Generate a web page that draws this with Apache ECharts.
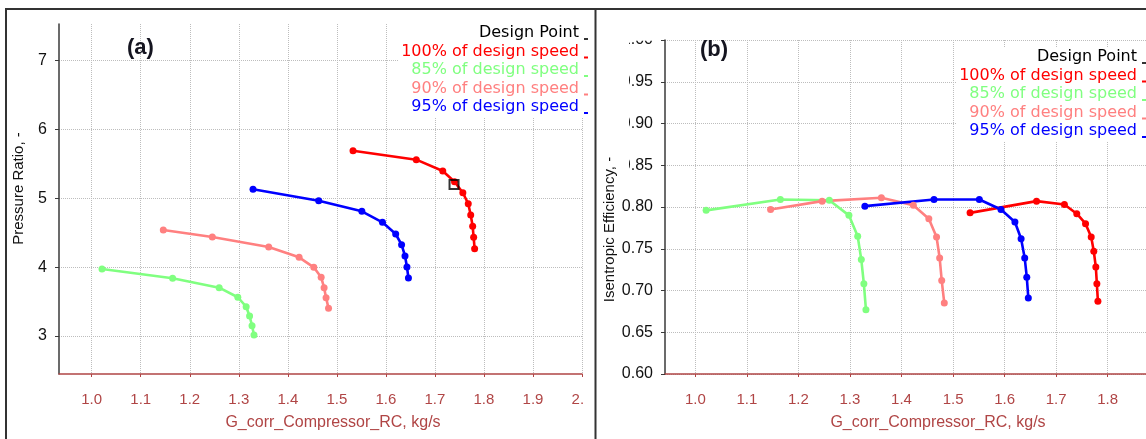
<!DOCTYPE html>
<html lang="en">
<head>
<meta charset="UTF-8">
<title>Compressor map</title>
<script src="https://cdn.jsdelivr.net/npm/echarts@6/dist/echarts.min.js"></script>
<style>
html, body { margin: 0; padding: 0; background: #fff; }
#main { width: 1146px; height: 439px; }
</style>
</head>
<body>
<div id="main"></div>
<script>
// corrected mass flow [kg/s], pressure ratio [-], isentropic efficiency [-]
var flow100 = [1.533, 1.662, 1.716, 1.740, 1.757, 1.768, 1.773, 1.777, 1.779, 1.781];
var pr100   = [5.692, 5.562, 5.397, 5.242, 5.082, 4.922, 4.758, 4.594, 4.434, 4.269];
var eff100  = [0.793, 0.807, 0.803, 0.792, 0.780, 0.764, 0.747, 0.728, 0.708, 0.687];

var flow95 = [1.329, 1.463, 1.551, 1.593, 1.620, 1.632, 1.639, 1.643, 1.646];
var pr95   = [5.132, 4.966, 4.812, 4.652, 4.482, 4.327, 4.163, 4.003, 3.843];
var eff95  = [0.801, 0.809, 0.809, 0.797, 0.782, 0.762, 0.739, 0.716, 0.691];

var flow90 = [1.146, 1.246, 1.361, 1.423, 1.453, 1.468, 1.474, 1.478, 1.483];
var pr90   = [4.540, 4.439, 4.293, 4.143, 3.998, 3.853, 3.702, 3.557, 3.403];
var eff90  = [0.797, 0.807, 0.811, 0.802, 0.786, 0.764, 0.739, 0.712, 0.685];

var flow85 = [1.021, 1.165, 1.260, 1.298, 1.315, 1.322, 1.327, 1.331];
var pr85   = [3.974, 3.838, 3.702, 3.563, 3.426, 3.291, 3.150, 3.015];
var eff85  = [0.796, 0.809, 0.808, 0.790, 0.765, 0.737, 0.708, 0.677];

var designFlow = [1.739];
var designPr = [5.20];

var flowTicksA = [1.0, 1.1, 1.2, 1.3, 1.4, 1.5, 1.6, 1.7, 1.8, 1.9, 2.0];
var flowTicksB = [1.0, 1.1, 1.2, 1.3, 1.4, 1.5, 1.6, 1.7, 1.8];
var prTicks = [3, 4, 5, 6, 7];
var effTicks = [0.60, 0.65, 0.70, 0.75, 0.80, 0.85, 0.90, 0.95, 1.00];

var legendNames = ['Design Point', '100% of design speed', '85% of design speed', '90% of design speed', '95% of design speed'];
var legendColors = ['#000000', '#ff0000', '#80ff80', '#ff8080', '#0000ff'];

var red = '#ff0000', green = '#80ff80', salmon = '#ff8080', blue = '#0000ff';
var axisRed = '#b04545';
var gridGray = '#bdbdbd';

function zip(xs, ys) {
	return xs.map(function (x, i) { return [x, ys[i]]; });
}

function speedLine(name, color, xs, ys, idx) {
	return {
		name: name, type: 'line', xAxisIndex: idx, yAxisIndex: idx,
		data: zip(xs, ys),
		symbol: 'circle', symbolSize: 7,
		lineStyle: { color: color, width: 2.6 },
		itemStyle: { color: color, borderWidth: 0 },
		emphasis: { disabled: true },
		z: 3
	};
}

// tiny dash after each legend text
var dashIcon = 'path://M0,0 M0,13 L4,13 L4,15 L0,15 Z M4,16';

function legendAt(top, right) {
	return {
		orient: 'vertical', align: 'right',
		top: top, right: right,
		itemWidth: 4, itemHeight: 16, itemGap: 2.5,
		icon: dashIcon,
		selectedMode: false,
		backgroundColor: '#fff',
		padding: [2, 0, 3, 3],
		textStyle: { fontFamily: 'DejaVu Sans', fontSize: 16 },
		data: legendNames.map(function (n, i) {
			return { name: n, textStyle: { color: legendColors[i] }, itemStyle: { color: legendColors[i], borderWidth: 0 } };
		})
	};
}

function flowAxis(idx, min, max, ticks, namePad) {
	return {
		gridIndex: idx, type: 'value', min: min, max: max,
		name: 'G_corr_Compressor_RC, kg/s',
		nameLocation: 'middle', nameGap: 41,
		nameTextStyle: { color: axisRed, fontFamily: 'Liberation Sans', fontSize: 16, padding: [0, 0, 0, namePad] },
		axisLine: { onZero: false, lineStyle: { color: axisRed, width: 1.5 } },
		axisTick: { customValues: ticks, length: 3, lineStyle: { color: axisRed } },
		axisLabel: {
			customValues: ticks, margin: 18, color: axisRed,
			fontFamily: 'Liberation Sans', fontSize: 15,
			formatter: function (v) { return v.toFixed(1); }
		},
		splitLine: { show: true, lineStyle: { color: gridGray, type: [1, 1], width: 1 } }
	};
}

function valAxis(idx, min, max, ticks, name, digits, gap, pad) {
	return {
		gridIndex: idx, type: 'value', min: min, max: max,
		name: name, nameLocation: 'middle', nameGap: gap,
		nameTextStyle: { color: '#111', fontFamily: 'Liberation Sans', fontSize: 15, padding: pad },
		axisLine: { onZero: false, lineStyle: { color: '#3a3a3a', width: 1.5 } },
		axisTick: { customValues: ticks, length: 4, lineStyle: { color: '#3a3a3a' } },
		axisLabel: {
			customValues: ticks, margin: 12, color: '#111',
			fontFamily: 'Liberation Sans', fontSize: 16,
			formatter: function (v) { return v.toFixed(digits); }
		},
		splitLine: { show: true, lineStyle: { color: gridGray, type: [1, 1], width: 1 } }
	};
}

var chart = echarts.init(document.getElementById('main'));
var option = {
	animation: false,
	backgroundColor: '#fff',
	title: [
		{ text: '(a)', left: 127, top: 37, padding: 0, textStyle: { fontFamily: 'Liberation Sans', fontWeight: 'bold', fontSize: 22, color: '#151520' } },
		{ text: '(b)', left: 700, top: 39, padding: 0, textStyle: { fontFamily: 'Liberation Sans', fontWeight: 'bold', fontSize: 22, color: '#151520' } }
	],
	legend: [legendAt(23, 558), legendAt(47, 0)],
	grid: [
		{ left: 59, top: 24, right: 564, bottom: 65, outerBoundsMode: 'none' },
		{ left: 665, top: 40, right: 0, bottom: 65, outerBoundsMode: 'none' }
	],
	xAxis: [
		flowAxis(0, 0.9333, 2.0, flowTicksA, 25),
		flowAxis(1, 0.9412, 1.8743, flowTicksB, 65)
	],
	yAxis: [
		valAxis(0, 2.448, 7.533, prTicks, 'Pressure Ratio, -', 0, 33, [0, 0, 0, 21]),
		valAxis(1, 0.60, 1.00, effTicks, 'Isentropic Efficiency, -', 2, 48, [0, 45, 0, 0])
	],
	series: [
		speedLine('100% of design speed', red, flow100, pr100, 0),
		speedLine('85% of design speed', green, flow85, pr85, 0),
		speedLine('90% of design speed', salmon, flow90, pr90, 0),
		speedLine('95% of design speed', blue, flow95, pr95, 0),
		speedLine('100% of design speed', red, flow100, eff100, 1),
		speedLine('85% of design speed', green, flow85, eff85, 1),
		speedLine('90% of design speed', salmon, flow90, eff90, 1),
		speedLine('95% of design speed', blue, flow95, eff95, 1),
		{
			name: 'Design Point', type: 'scatter', xAxisIndex: 0, yAxisIndex: 0,
			data: zip(designFlow, designPr),
			symbol: 'rect', symbolSize: 9,
			itemStyle: { color: 'rgba(0,0,0,0)', borderColor: '#000', borderWidth: 2 },
			emphasis: { disabled: true },
			z: 5
		}
	],
	graphic: [
		// clipped tick labels as in the original panels
		{ type: 'rect', z: 100, shape: { x: 584, y: 384, width: 10, height: 30 }, style: { fill: '#fff' } },
		{ type: 'rect', z: 100, shape: { x: 617, y: 28, width: 12, height: 146 }, style: { fill: '#fff' } },
		{ type: 'rect', z: 100, shape: { x: 617, y: 28, width: 44, height: 12.7 }, style: { fill: '#fff' } },
		// panel frames
		{ type: 'line', z: 100, shape: { x1: 5, y1: 9, x2: 1146, y2: 9 }, style: { stroke: '#333', lineWidth: 2 } },
		{ type: 'line', z: 100, shape: { x1: 6, y1: 9, x2: 6, y2: 439 }, style: { stroke: '#333', lineWidth: 2 } },
		{ type: 'line', z: 100, shape: { x1: 595.5, y1: 9, x2: 595.5, y2: 439 }, style: { stroke: '#333', lineWidth: 2 } }
	]
};
chart.setOption(option);
</script>
</body>
</html>
